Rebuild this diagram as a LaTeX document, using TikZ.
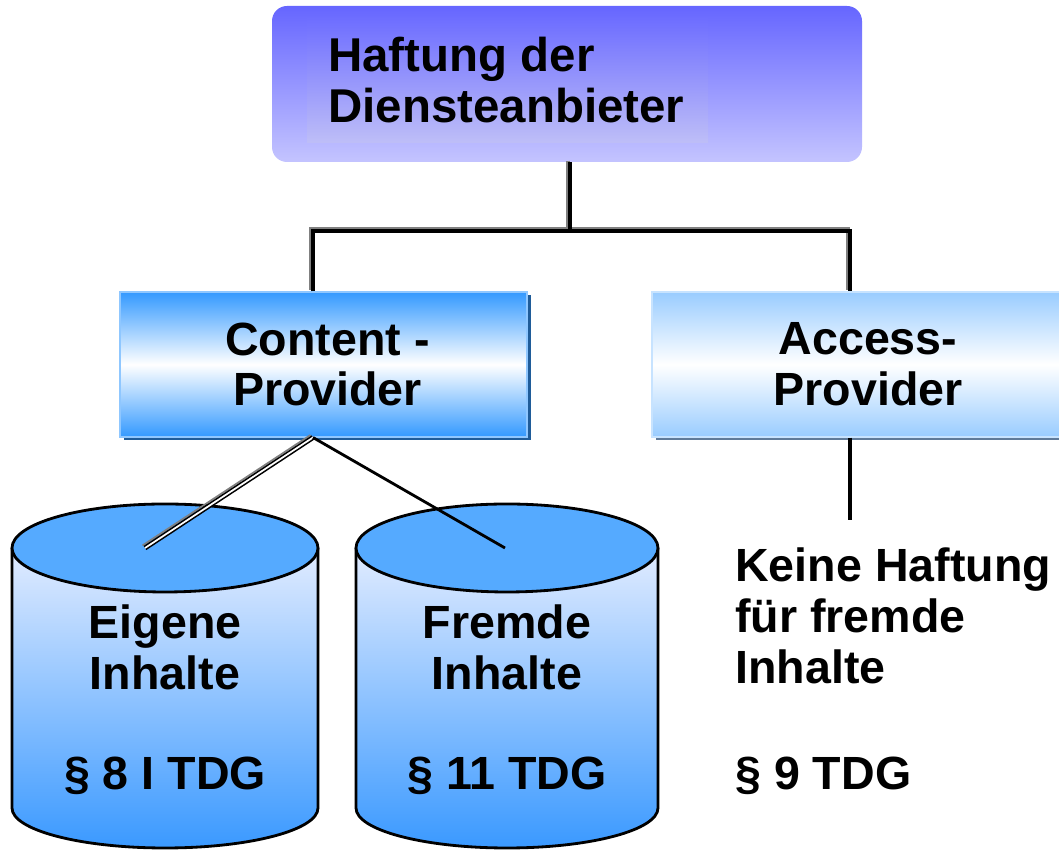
\documentclass[tikz,border=0pt]{standalone}
\usepackage{fontspec}
\setmainfont{Liberation Sans}
\usetikzlibrary{shadows}

\definecolor{hdtop}{HTML}{6666FF}
\definecolor{hdbot}{HTML}{C4C4FF}
\definecolor{cpblue}{HTML}{3399FF}
\definecolor{cpshadow}{HTML}{1F5C99}
\definecolor{apblue}{HTML}{99CCFF}
\definecolor{apshadow}{HTML}{5F7A99}
\definecolor{cyltop}{HTML}{55AAFF}
\definecolor{cylpale}{HTML}{E2ECFF}
\definecolor{cyldeep}{HTML}{3A99FF}

\tikzset{
  bigtext/.style={font=\bfseries\fontsize{26.5}{29}\selectfont, align=center, inner sep=0pt},
  headbox/.style={rounded corners=0.3cm, top color=hdtop, bottom color=hdbot,
    minimum width=11.8cm, minimum height=3.12cm, inner sep=0pt},
  provbox/.style={top color=#1, bottom color=#1, middle color=white,
    minimum height=2.9cm, inner sep=0pt},
  branch/.style={line width=2.4pt},
  branchshade/.style={line width=2.4pt, gray, transform canvas={xshift=-0.045cm, yshift=0.035cm}},
  cylline/.style={line width=1.6pt}
}

\begin{document}
\begin{tikzpicture}
  \useasboundingbox (0,0) rectangle (21.18,17.04);
  \clip (0,0) rectangle (21.18,17.04);

  % top box
  \node[headbox] (head) at (11.34,15.36) {};
  \node[top color=hdtop!95!white, bottom color=hdbot!97!black, minimum width=8.02cm,
    minimum height=2.5cm, inner sep=0pt] (headin) at (10.15,15.43) {};
  \node[bigtext, font=\bfseries\fontsize{27}{29}\selectfont, align=left, anchor=north west]
    (headtxt) at (6.56,16.3) {Haftung der\\Diensteanbieter};

  % provider boxes
  \node[provbox=cpblue, minimum width=8.14cm, draw=cpblue!55!white, line width=0.6pt,
    drop shadow={shadow xshift=0.07cm, shadow yshift=-0.07cm, fill=cpshadow, opacity=1}]
    (cp) at (6.47,9.75) {};
  \node[bigtext] (cptxt) at ([xshift=0.08cm]cp) {Content -\\Provider};
  \node[provbox=apblue, minimum width=8.56cm, draw=apblue!55!white, line width=0.6pt,
    drop shadow={shadow xshift=0.07cm, shadow yshift=-0.07cm, fill=apshadow, opacity=1}]
    (ap) at (17.32,9.75) {};
  \node[bigtext] (aptxt) at ([xshift=0.04cm]ap) {Access-\\Provider};

  % tree lines
  \coordinate (fork) at (11.4,12.42);
  \coordinate (cpin) at ([xshift=-0.21cm]cp.north);
  \coordinate (apin) at ([xshift=-0.32cm]ap.north);
  \draw[branchshade] (head.south -| fork) -- (fork);
  \draw[branchshade] (cpin) -- (cpin |- fork) -- (apin |- fork) -- (apin);
  \draw[branch] (head.south -| fork) -- (fork);
  \draw[branch] (cpin) -- (cpin |- fork) -- (apin |- fork) -- (apin);
  \coordinate (apend) at (17.0,6.64);
  \draw[branch] (apend |- ap.south) -- (apend);

  % cylinders
  \foreach \cx/\rx in {3.3/3.06, 10.14/3.02} {
    \shade[top color=cylpale, bottom color=cyldeep]
      ({\cx-\rx},6.08) -- ({\cx-\rx},0.88)
      arc[start angle=180, end angle=360, x radius=\rx cm, y radius=0.8cm]
      -- ({\cx+\rx},6.08) -- cycle;
    \draw[cylline] ({\cx-\rx},6.08) -- ({\cx-\rx},0.88)
      arc[start angle=180, end angle=360, x radius=\rx cm, y radius=0.8cm]
      -- ({\cx+\rx},6.08);
    \filldraw[cylline, fill=cyltop] (\cx,6.08) ellipse [x radius=\rx cm, y radius=0.88cm];
  }
  \coordinate (eigtop) at (2.9,6.08);
  \coordinate (frmtop) at (10.1,6.08);
  \coordinate (cpout) at ([xshift=-0.21cm]cp.south);

  \draw[line width=1pt, gray, transform canvas={xshift=-0.05cm, yshift=0.05cm}] (cpout) -- (eigtop);
  \draw[double=white, double distance=1pt, line width=0.9pt] (cpout) -- (eigtop);
  \draw[line width=1.6pt] (cpout) -- (frmtop);

  \node[bigtext] (eigen) at (3.3,4.1) {Eigene\\Inhalte};
  \node[bigtext, anchor=base] (eigpar) at (3.3,1.24) {§ 8 I TDG};
  \node[bigtext] (fremd) at (10.14,4.1) {Fremde\\Inhalte};
  \node[bigtext, anchor=base] (frmpar) at (10.14,1.24) {§ 11 TDG};

  % right column
  \node[bigtext, align=left, anchor=north west] (nohaft) at (14.7,6.1)
    {Keine Haftung\\für fremde\\Inhalte};
  \node[bigtext, anchor=base west] (appar) at (14.7,1.24) {§ 9 TDG};
\end{tikzpicture}
\end{document}
